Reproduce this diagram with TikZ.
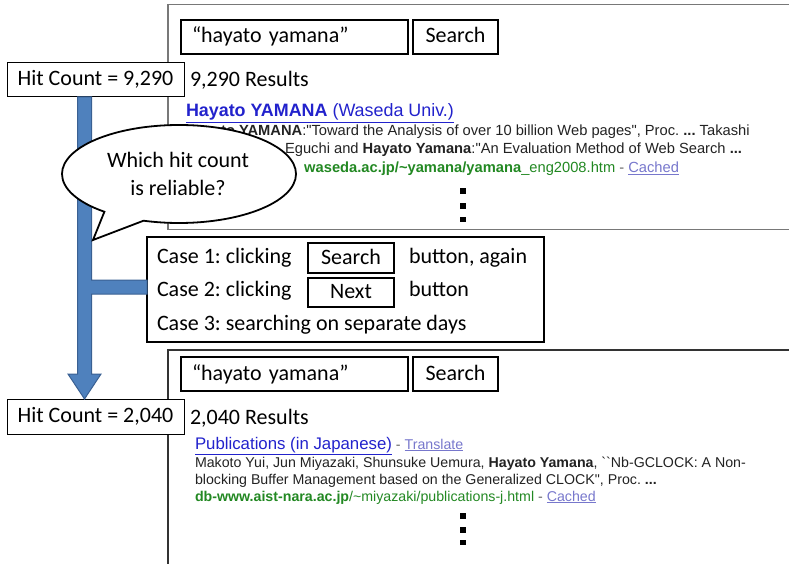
\documentclass[tikz,border=0pt]{standalone}
\usepackage{fontspec}
\setmainfont{Carlito}
\newfontfamily\arialf{Liberation Sans}
\usetikzlibrary{shapes.callouts,calc}
\definecolor{barblue}{RGB}{79,129,189}
\definecolor{bardark}{RGB}{58,96,146}
\definecolor{linkblue}{RGB}{34,34,204}
\definecolor{visitedc}{RGB}{119,119,204}
\definecolor{urlgreen}{RGB}{34,136,34}
\definecolor{snip}{RGB}{34,34,34}
\definecolor{dashgray}{RGB}{100,100,100}
\definecolor{panelgray}{RGB}{120,120,120}
\frenchspacing
\begin{document}
\begin{tikzpicture}[x=1pt,y=-1pt,
  every node/.style={inner sep=0pt, outer sep=0pt},
  calib/.style={font=\fontsize{22}{28}\selectfont},
  thinbox/.style={draw=black, line width=1pt, fill=white, calib, text height=15pt, text depth=3pt},
  thickbox/.style={draw=black, line width=2.6pt, fill=white, calib, text height=15pt, text depth=3pt},
  lbl/.style={calib, anchor=base west},
  title1/.style={font=\arialf\fontsize{17.9}{21}\selectfont, text=linkblue, anchor=base west},
  snipA/.style={font=\arialf\fontsize{14.7}{18}\selectfont, text=snip},
  snipB/.style={font=\arialf\fontsize{14.2}{17}\selectfont, text=snip, anchor=base west},
  bluebar/.style={fill=barblue, draw=bardark, line width=1pt, line join=miter},
  dot/.style={fill=black}
]
\useasboundingbox (0,0) rectangle (789,564);

% result panels
\draw[panelgray, line width=1.6pt] (792,4.5) -- (168,4.5) -- (168,229.5) -- (792,229.5);
\draw[black!80, line width=1.6pt] (792,350) -- (168,350) -- (168,570);

% ---------- top panel ----------
\node[thickbox, anchor=north west, minimum width=227pt, minimum height=34pt,
      inner xsep=11pt, text width=205pt, align=left] (q1) at (181,20) {“hayato yamana”};
\node[thickbox, anchor=north west, minimum width=85pt, minimum height=34pt] (s1) at (413,20) {Search};
\node[lbl] (res1) at (190,87) {9,290 Results};
\node[title1] (t1) at (186,117) {\underline{\textbf{Hayato YAMANA} (Waseda Univ.)}};
\node[snipA, anchor=base west] (l1) at (186,136) {\textbf{Hayato YAMANA}:"Toward the Analysis of over 10 billion Web pages", Proc. \textbf{...} Takashi};
\node[snipA, anchor=base east] (l2) at (742,154) {Eguchi and \textbf{Hayato Yamana}:"An Evaluation Method of Web Search \textbf{...}};
\node[snipA, anchor=base east] (l3) at (679,173) {{\color{urlgreen}\textbf{waseda.ac.jp/\textasciitilde yamana/yamana}\_eng2008.htm} {\color{dashgray}-} {\color{visitedc}\underline{Cached}}};
\fill[dot] (460,188) rectangle (466,194);
\fill[dot] (460,203) rectangle (466,209);
\fill[dot] (460,217) rectangle (466,222);

% ---------- bottom panel ----------
\node[thickbox, anchor=north west, minimum width=227pt, minimum height=34pt,
      inner xsep=11pt, text width=205pt, align=left] (q2) at (181,357) {“hayato yamana”};
\node[thickbox, anchor=north west, minimum width=85pt, minimum height=34pt] (s2) at (413,357) {Search};
\node[lbl] (res2) at (190,424) {2,040 Results};
\node[anchor=base west, font=\arialf\fontsize{14.2}{17}\selectfont] (t2) at (195,449) {{\fontsize{16.8}{20}\selectfont\color{linkblue}\underline{Publications (in Japanese)}}\ {\color{dashgray}-}\ {\color{visitedc}\underline{Translate}}};
\node[snipB] (b1) at (195,467) {Makoto Yui, Jun Miyazaki, Shunsuke Uemura, \textbf{Hayato Yamana}, \textasciigrave\textasciigrave Nb-GCLOCK: A Non-};
\node[snipB] (b2) at (195,484) {blocking Buffer Management based on the Generalized CLOCK", Proc. \textbf{...}};
\node[snipB] (b3) at (195,501) {{\color{urlgreen}\textbf{db-www.aist-nara.ac.jp}/\textasciitilde miyazaki/publications-j.html} {\color{dashgray}-} {\color{visitedc}\underline{Cached}}};
\fill[dot] (460,513) rectangle (466,519);
\fill[dot] (460,527) rectangle (466,533);
\fill[dot] (460,540) rectangle (466,545);

% ---------- cases box ----------
\node[draw=black, line width=1.2pt, fill=white, anchor=north west,
      minimum width=397pt, minimum height=105pt] (cases) at (147,237) {};
\node[lbl] (c1) at (157,263) {Case 1: clicking};
\node[thickbox, anchor=north west, minimum width=86pt, minimum height=30pt] (bs) at (308,243) {Search};
\node[lbl] (c1b) at (409,263) {button, again};
\node[lbl] (c2) at (157,296) {Case 2: clicking};
\node[thickbox, anchor=north west, minimum width=86pt, minimum height=29pt] (bn) at (308,278) {Next};
\node[lbl] (c2b) at (409,296) {button};
\node[lbl] (c3) at (157,330) {Case 3: searching on separate days};

% ---------- hit count boxes ----------
\node[thinbox, anchor=north west, minimum width=177pt, minimum height=34pt] (hit1) at (7,63) {Hit Count = 9,290};
\node[thinbox, anchor=north west, minimum width=177pt, minimum height=35pt] (hit2) at (7,399) {Hit Count = 2,040};

% ---------- blue arrow with branch ----------
\coordinate (bt) at (84.5,97);
\coordinate (bj) at (84.5,287);
\coordinate (bb) at (84.5,399);
\coordinate (br) at (cases.west |- bj);
\draw[bluebar] ($(bt)+(-7,0)$) -- ($(bt)+(7,0)$) -- ($(bj)+(7,-7)$) -- ($(br)+(0,-7)$)
  -- ($(br)+(0,7)$) -- ($(bj)+(7,7)$) -- ($(bb)+(7,-25)$) -- ($(bb)+(16.5,-25)$)
  -- (bb) -- ($(bb)+(-16.5,-25)$) -- ($(bb)+(-7,-25)$) -- cycle;

% ---------- speech bubble ----------
\coordinate (tip) at (93,240);
\node[ellipse callout, draw=black, line width=1.8pt, fill=white,
      minimum width=234pt, minimum height=98pt,
      callout absolute pointer={(tip)}, callout pointer arc=22] (bub) at (179,174) {};
\node[calib, align=center] (bubtxt) at (178,174) {Which hit count\\is reliable?};
\end{tikzpicture}
\end{document}
